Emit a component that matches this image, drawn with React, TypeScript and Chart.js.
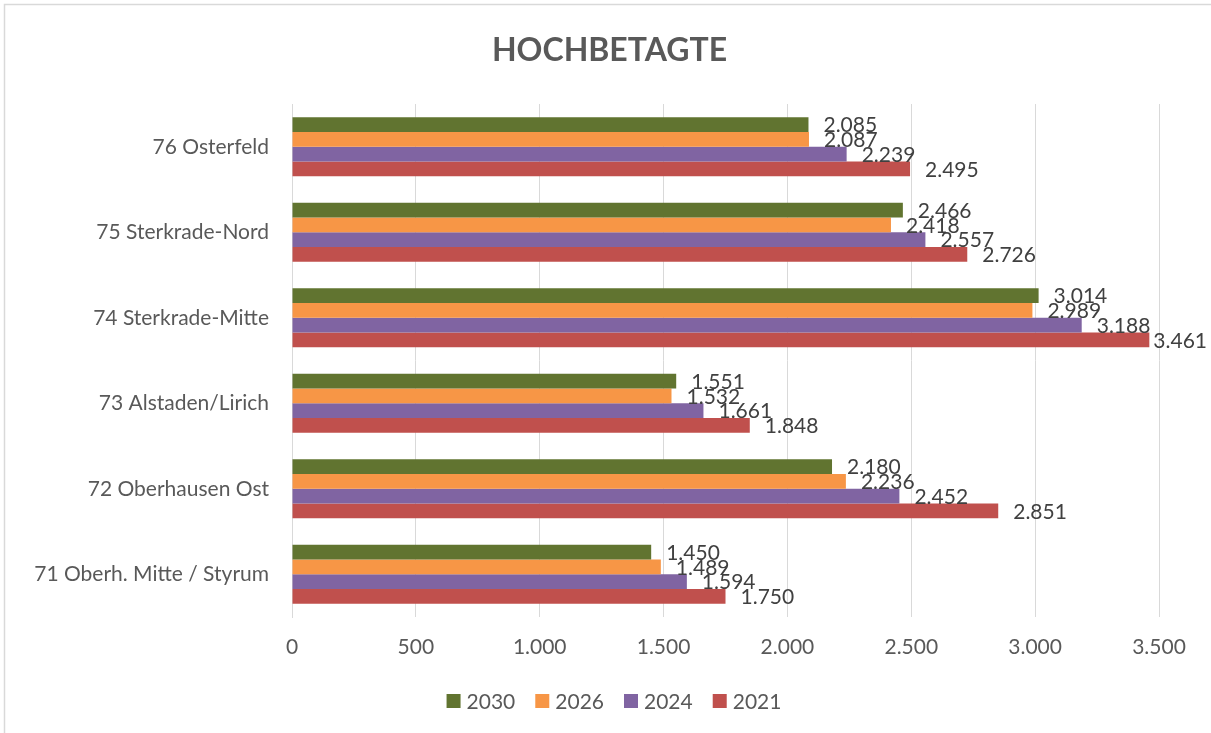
import React, { useEffect, useRef } from "react";
import { Chart, registerables } from "chart.js";

Chart.register(...registerables);

const categories = [
  "76 Osterfeld",
  "75 Sterkrade-Nord",
  "74 Sterkrade-Mitte",
  "73 Alstaden/Lirich",
  "72 Oberhausen Ost",
  "71 Oberh. Mitte / Styrum",
];
const seriesNames = ["2030", "2026", "2024", "2021"];
const values2030 = [2085, 2466, 3014, 1551, 2180, 1450];
const values2026 = [2087, 2418, 2989, 1532, 2236, 1489];
const values2024 = [2239, 2557, 3188, 1661, 2452, 1594];
const values2021 = [2495, 2726, 3461, 1848, 2851, 1750];
const seriesColors = ["#617430", "#f79646", "#8064a2", "#c0504d"];
const axisMin = 0;
const axisMax = 3500;
const axisStep = 500;

const FONT = "Lato, 'Liberation Sans', sans-serif";

function fmt(v: number): string {
  const s = Math.round(v).toString();
  return s.replace(/\B(?=(\d{3})+(?!\d))/g, ".");
}

const framePlugin = {
  id: "frame",
  beforeDraw(chart: any) {
    const ctx = chart.ctx;
    ctx.save();
    ctx.fillStyle = "#ffffff";
    ctx.fillRect(0, 0, chart.width, chart.height);
    ctx.strokeStyle = "#d9d9d9";
    ctx.lineWidth = 1.5;
    ctx.strokeRect(4.5, 4.5, chart.width + 20, chart.height + 20);
    ctx.restore();
  },
};

const labelPlugin = {
  id: "valueLabels",
  afterDatasetsDraw(chart: any) {
    const ctx = chart.ctx;
    ctx.save();
    ctx.font = `21px ${FONT}`;
    ctx.fillStyle = "#404040";
    ctx.textAlign = "left";
    ctx.textBaseline = "middle";
    chart.data.datasets.forEach((ds: any, di: number) => {
      const meta = chart.getDatasetMeta(di);
      meta.data.forEach((el: any, i: number) => {
        const txt = fmt(ds.data[i]);
        const w = ctx.measureText(txt).width;
        let x = el.x + 15;
        if (x + w > chart.width - 4) x = chart.width - 4 - w;
        ctx.fillText(txt, x, el.y + 1);
      });
    });
    ctx.restore();
  },
};

const legendPlugin = {
  id: "customLegend",
  afterDraw(chart: any) {
    const ctx = chart.ctx;
    ctx.save();
    ctx.font = `21px ${FONT}`;
    ctx.textBaseline = "middle";
    ctx.textAlign = "left";
    const box = 14;
    const gapText = 6;
    const gapItem = 20;
    const items = chart.data.datasets.map((ds: any) => ({
      text: ds.label,
      color: ds.backgroundColor,
      w: ctx.measureText(ds.label).width,
    }));
    const total =
      items.reduce((a: number, it: any) => a + box + gapText + it.w, 0) +
      gapItem * (items.length - 1);
    const cy = 701;
    let x = 614 - total / 2;
    items.forEach((it: any) => {
      ctx.fillStyle = it.color;
      ctx.fillRect(x, cy - box / 2, box, box);
      ctx.fillStyle = "#595959";
      ctx.fillText(it.text, x + box + gapText, cy + 1);
      x += box + gapText + it.w + gapItem;
    });
    ctx.restore();
  },
};

export default function App() {
  const ref = useRef<HTMLCanvasElement | null>(null);
  useEffect(() => {
    if (!ref.current) return;
    const data = [values2030, values2026, values2024, values2021];
    const chart = new Chart(ref.current, {
      type: "bar",
      data: {
        labels: categories,
        datasets: seriesNames.map((name, i) => ({
          label: name,
          data: data[i],
          backgroundColor: seriesColors[i],
          borderWidth: 0,
          categoryPercentage: 0.69,
          barPercentage: 1,
        })),
      },
      options: {
        indexAxis: "y",
        animation: false,
        responsive: true,
        maintainAspectRatio: false,
        layout: { padding: { left: 8, right: 0, top: 0, bottom: 54 } },
        plugins: {
          title: {
            display: true,
            text: "HOCHBETAGTE",
            color: "#595959",
            font: { family: FONT, size: 32, weight: "bold" },
            padding: { top: 31, bottom: 34.6 },
          },
          legend: { display: false },
          tooltip: { enabled: false },
        },
        scales: {
          x: {
            min: axisMin,
            max: axisMax,
            ticks: {
              stepSize: axisStep,
              color: "#595959",
              font: { family: FONT, size: 21 },
              padding: 18,
              callback: (v: any) => fmt(Number(v)),
            },
            grid: { color: "#d9d9d9", lineWidth: 1, drawTicks: false },
            border: { display: false },
            afterFit: (scale: any) => {
              scale.height = 62;
            },
          },
          y: {
            ticks: {
              color: "#595959",
              font: { family: FONT, size: 21 },
              padding: 23,
            },
            grid: { display: false, drawTicks: false },
            border: { display: true, color: "#d9d9d9", width: 1 },
            afterFit: (scale: any) => {
              scale.width = 284;
            },
          },
          yRight: {
            type: "category",
            position: "right",
            display: true,
            ticks: { display: false },
            grid: { display: false, drawTicks: false },
            border: { display: false },
            afterFit: (scale: any) => {
              scale.width = 52;
            },
          },
        },
      },
      plugins: [framePlugin, labelPlugin, legendPlugin],
    } as any);
    return () => chart.destroy();
  }, []);
  return (
    <div style={{ position: "absolute", left: 0, top: 0, width: 1211, height: 733 }}>
      <canvas ref={ref} />
    </div>
  );
}
